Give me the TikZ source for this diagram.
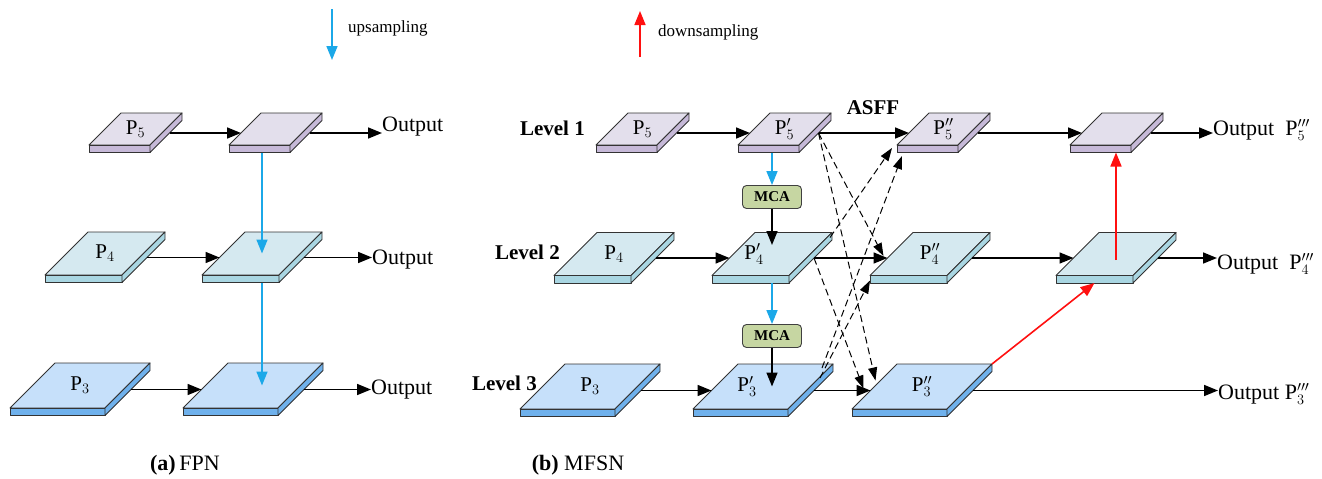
\documentclass[tikz,border=0pt]{standalone}
\usepackage{fontspec}
\setmainfont{Liberation Serif}
\usetikzlibrary{arrows.meta,calc}

\definecolor{topI}{HTML}{E3DFEC}
\definecolor{sideI}{HTML}{C6B9D8}
\definecolor{topII}{HTML}{D5E9F0}
\definecolor{sideII}{HTML}{A9D6E2}
\definecolor{topIII}{HTML}{C6E0FA}
\definecolor{sideIII}{HTML}{6FB1EC}
\definecolor{mcagreen}{HTML}{C6D6A2}
\definecolor{upblue}{HTML}{1BA8E8}
\definecolor{downred}{HTML}{FF1010}

\tikzset{
  slabedge/.style={draw=black!80, line width=0.9pt, line join=round},
  slablabel/.style={inner sep=0pt, font=\fontsize{21}{23}\selectfont},
  flow/.style={line width=1.6pt, -{Triangle[length=14pt,width=11pt]}},
  fuse/.style={line width=1pt, dash pattern=on 7pt off 4pt, -{Triangle[length=13pt,width=9pt]}},
  upflow/.style={flow, draw=upblue},
  downflow/.style={flow, draw=downred},
  mca/.style={draw=black!75, line width=0.9pt, fill=mcagreen, rounded corners=4pt,
    minimum width=59pt, minimum height=23pt, inner sep=0pt,
    font=\bfseries\fontsize{15}{16}\selectfont},
  txt/.style={inner sep=0pt, font=\fontsize{22}{25}\selectfont},
  lvl/.style={inner sep=0pt, font=\bfseries\fontsize{21}{24}\selectfont},
  legend/.style={inner sep=0pt, font=\fontsize{17}{20}\selectfont},
}

% slab thickness
\def\slabt{7.5}
% #1 name, #2 x0, #3 y0 (front-left corner of top face), #4 width, #5 depth,
% #6 top colour, #7 side colour, #8 label, #9 label x shift
\newcommand\slab[9]{%
  \filldraw[slabedge, fill=#6] (#2,#3) -- ++(#4,0) -- ++(#5,-#5) -- ++(-#4,0) -- cycle;
  \filldraw[slabedge, fill=#7] (#2,#3) -- ++(#4,0) -- ++(0,\slabt) -- ++(-#4,0) -- cycle;
  \filldraw[slabedge, fill=#7] ({#2+#4},#3) -- ++(#5,-#5) -- ++(0,\slabt) -- ++(-#5,#5) -- cycle;
  \coordinate (#1-c) at ({#2+#4/2+#5/2}, {#3-#5/2});
  \coordinate (#1-w) at ({#2+#5/2-4}, {#3-#5/2+4});
  \coordinate (#1-e) at ({#2+#4+#5/2-4+\slabt}, {#3-#5/2+4});
  \coordinate (#1-b) at ({#2+#4/2}, {#3+\slabt});
  \coordinate (#1-bl) at (#2, #3);
  \coordinate (#1-tr) at ({#2+#4+#5}, {#3-#5});
  \node[slablabel] (#1) at ({#2+#4/2+#5/2+#9}, {#3-#5/2}) {#8};
}
\newcommand\slabI[5]{\slab{#1}{#2}{#3}{61}{32}{topI}{sideI}{#4}{#5}}
\newcommand\slabII[5]{\slab{#1}{#2}{#3}{77}{43}{topII}{sideII}{#4}{#5}}
\newcommand\slabIII[5]{\slab{#1}{#2}{#3}{95}{45}{topIII}{sideIII}{#4}{#5}}
\newcommand\Pl[2]{$\mathrm{P}#2_{#1}$}

\begin{document}
\begin{tikzpicture}[x=1pt, y=-1pt]
\useasboundingbox (0,0) rectangle (1322,479);

% ---------------- legend ----------------
\coordinate (upS) at (332,9);
\coordinate (upE) at (332,60);
\draw[upflow] (upS) -- (upE);
\node[legend, anchor=west] (uptxt) at (348,28) {upsampling};
\coordinate (dnS) at (640,57);
\coordinate (dnE) at (640,11);
\draw[downflow] (dnS) -- (dnE);
\node[legend, anchor=west] (dntxt) at (658,32) {downsampling};

% ---------------- (a) FPN ----------------
\slabI{a5}{89}{145}{\Pl{5}{}}{0}
\slabI{a5o}{229}{145}{}{0}
\slabII{a4}{45}{275}{\Pl{4}{}}{0}
\slabII{a4o}{202}{275}{}{0}
\slabIII{a3}{10}{408}{\Pl{3}{}}{0}
\slabIII{a3o}{183}{408}{}{0}

\node[txt, anchor=west] (ao5) at (382,127) {Output};
\node[txt, anchor=west] (ao4) at (372,260) {Output};
\node[txt, anchor=west] (ao3) at (371,390) {Output};

\draw[flow] (a5-e) -- (a5o-w);
\draw[flow] (a4-e) -- (a4o-w);
\draw[flow] (a3-e) -- (a3o-w);
\draw[flow] (a5o-e) -- (a5o-e -| ao5.west);
\draw[flow] (a4o-e) -- (a4o-e -| ao4.west);
\draw[flow] (a3o-e) -- (a3o-e -| ao3.west);

\coordinate (fpnaxis) at (262,0);
\draw[upflow] (fpnaxis |- a5o-b) -- (fpnaxis |- a4o-c);
\draw[upflow] (fpnaxis |- a4o-b) -- (fpnaxis |- a3o-c);

\node[txt] (capa) at (185,465) {\textbf{(a)}\,FPN};

% ---------------- (b) MFSN ----------------
\node[lvl, anchor=east] (lv1) at (585,128) {Level 1};
\node[lvl, anchor=east] (lv2) at (560,252) {Level 2};
\node[lvl, anchor=east] (lv3) at (537,383) {Level 3};

\slabI{b5}{596}{145}{\Pl{5}{}}{0}
\slabI{b5a}{738}{145}{\Pl{5}{'}}{0}
\slabI{b5b}{897}{145}{\Pl{5}{''}}{0}
\slabI{b5c}{1070}{145}{}{0}
\slabII{b4}{554}{275.5}{\Pl{4}{}}{0}
\slabII{b4a}{712}{275.5}{\Pl{4}{'}}{-18}
\slabII{b4b}{870}{275.5}{\Pl{4}{''}}{0}
\slabII{b4c}{1056}{275.5}{}{0}
\slabIII{b3}{520}{409}{\Pl{3}{}}{0}
\slabIII{b3a}{693}{409}{\Pl{3}{'}}{-16}
\slabIII{b3b}{852}{409}{\Pl{3}{''}}{0}

\node[lvl] (asff) at (873,108) {ASFF};

\node[mca] (m1) at (772,197) {MCA};
\node[mca] (m2) at (772,336) {MCA};

\node[txt, anchor=west] (bo5) at (1213,130) {Output\enspace\Pl{5}{'''}};
\node[txt, anchor=west] (bo4) at (1217,264) {Output\enspace\Pl{4}{'''}};
\node[txt, anchor=west] (bo3) at (1218,394) {Output \Pl{3}{'''}};

% level 1
\draw[flow] (b5-e) -- (b5a-w);
\draw[flow] (b5a-e) -- (b5b-w);
\draw[flow] (b5b-e) -- (b5c-w);
\draw[flow] (b5c-e) -- (b5c-e -| bo5.west);
% level 2
\draw[flow] (b4-e) -- (b4a-w);
\draw[flow] (b4a-e) -- (b4b-w);
\draw[flow] (b4b-e) -- (b4c-w);
\draw[flow] (b4c-e) -- (b4c-e -| bo4.west);
% level 3
\draw[flow] (b3-e) -- (b3a-w);
\draw[flow] (b3a-e) -- (b3b-w);
\draw[flow] (b3b-e) -- (b3b-e -| bo3.west);

% attention branches
\draw[upflow] (m1 |- b5a-b) -- (m1.north);
\draw[flow] (m1.south) -- ([yshift=9pt]m1 |- b4a-c);
\draw[upflow] (m2 |- b4a-b) -- (m2.north);
\draw[flow] (m2.south) -- (m2 |- b3a-c);

% adaptive spatial feature fusion
\draw[fuse] (b5a-e) -- ([shift={(-4,-2)}]b4b-w);
\draw[fuse] (b5a-e) -- ([shift={(5,-10)}]b3b-w);
\draw[fuse] (b4a-e) -- ([shift={(-7,-2)}]b3b-w);
\draw[fuse] ([shift={(-2,5)}]b4a-tr) -- ([shift={(-5,3)}]b5b-bl);
\draw[fuse] ([shift={(-11,4)}]b3a-tr) -- ([shift={(5,11)}]b5b-bl);
\draw[fuse] ([shift={(-13,14)}]b3a-tr) -- ([shift={(0,5)}]b4b-bl);

% bottom-up path
\draw[downflow] (b3b-tr) -- (b4c-b);
\draw[downflow] ([yshift=-6pt]b4c-c) -- (b4c-c |- b5c-b);

\node[txt] (capb) at (578,465) {\textbf{(b)} MFSN};
\end{tikzpicture}
\end{document}
